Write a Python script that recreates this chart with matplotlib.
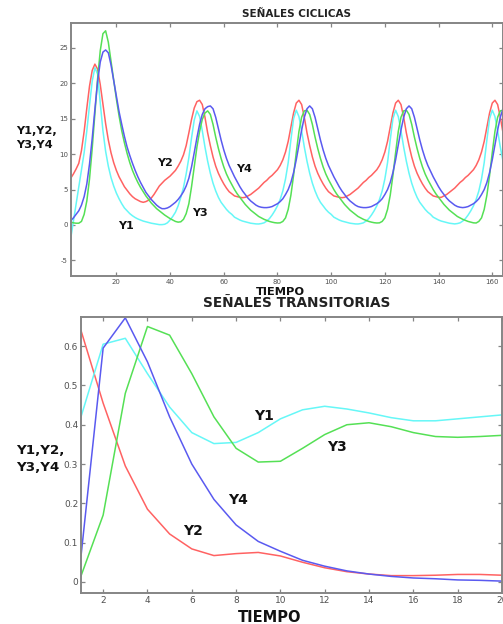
import numpy as np
import matplotlib
matplotlib.use("Agg")
import matplotlib.pyplot as plt

plt.rcParams["axes.unicode_minus"] = False

# ---------------- data: cyclic signals (t = 3 .. 165, step 1) ----------------
t_cyc = np.arange(3, 166)

y2_cyc = [
    6.6, 7.2, 7.9, 8.7, 10.5, 13.2, 16.5, 19.6, 21.8, 22.7, 22.0, 19.8, 17.0, 14.3, 12.0, 10.2, 8.8,
    7.7, 6.8, 6.1, 5.4, 4.9, 4.4, 4.0, 3.7, 3.5, 3.3, 3.2, 3.3, 3.5, 3.8, 4.3, 4.9, 5.5, 5.9, 6.3,
    6.6, 6.9, 7.3, 7.7, 8.3, 9.0, 9.9, 11.2, 13.0, 14.9, 16.5, 17.4, 17.6,
    17.0, 15.2, 13.0, 11.2, 9.6, 8.3, 7.3, 6.5, 5.8, 5.2, 4.7, 4.4, 4.1, 4.0, 3.9, 3.85, 3.9, 4.1,
    4.3, 4.6, 4.9, 5.2, 5.6, 6.0, 6.3, 6.7, 7.0, 7.4, 7.8, 8.4, 9.2, 10.3, 11.8, 13.8, 15.8, 17.2, 17.6,
    17.0, 15.2, 13.0, 11.2, 9.6, 8.3, 7.3, 6.5, 5.8, 5.2, 4.7, 4.4, 4.1, 4.0, 3.9, 3.85, 3.9, 4.1,
    4.3, 4.6, 4.9, 5.2, 5.6, 6.0, 6.3, 6.7, 7.0, 7.4, 7.8, 8.4, 9.2, 10.3, 11.8, 13.8, 15.8, 17.2, 17.6,
    17.0, 15.2, 13.0, 11.2, 9.6, 8.3, 7.3, 6.5, 5.8, 5.2, 4.7, 4.4, 4.1, 4.0, 3.9, 3.9, 4.1,
    4.3, 4.6, 4.9, 5.2, 5.6, 6.0, 6.3, 6.7, 7.0, 7.4, 7.8, 8.4, 9.2, 10.3, 11.8, 13.8, 15.8, 17.2, 17.6,
    17.0, 15.2, 13.0, 11.2,
]

y1_cyc = [
    -1.9, 0.5, 3.0, 5.4, 7.8, 10.2, 13.3, 16.9, 20.3, 22.2, 21.3, 17.2, 13.3, 10.4, 8.3, 6.7, 5.5,
    4.5, 3.7, 3.0, 2.4, 2.0, 1.6, 1.3, 1.05, 0.85, 0.7, 0.55, 0.45, 0.35, 0.25, 0.18, 0.1, 0.05,
    0.05, 0.1, 0.3, 0.7, 1.2, 1.8, 2.7, 3.9, 5.3, 7.2, 9.5, 12.3, 14.8, 16.1,
    15.3, 13.3, 11.0, 9.0, 7.3, 5.9, 4.8, 3.9, 3.2, 2.7, 2.2, 1.8, 1.5, 1.1, 0.9, 0.7, 0.55, 0.45,
    0.35, 0.25, 0.2, 0.15, 0.14, 0.2, 0.3, 0.55, 0.9, 1.4, 2.0, 2.7, 3.6, 4.8, 6.5, 8.8, 12.0, 15.0, 16.2,
    15.3, 13.3, 11.0, 9.0, 7.3, 5.9, 4.8, 3.9, 3.2, 2.7, 2.2, 1.8, 1.5, 1.1, 0.9, 0.7, 0.55, 0.45,
    0.35, 0.25, 0.2, 0.15, 0.14, 0.2, 0.3, 0.55, 0.9, 1.4, 2.0, 2.7, 3.6, 4.8, 6.5, 8.8, 12.0, 15.0, 16.2,
    15.3, 13.3, 11.0, 9.0, 7.3, 5.9, 4.8, 3.9, 3.2, 2.7, 2.2, 1.8, 1.5, 1.1, 0.9, 0.7, 0.55, 0.45,
    0.35, 0.25, 0.2, 0.15, 0.2, 0.3, 0.55, 0.9, 1.4, 2.0, 2.7, 3.6, 4.8, 6.5, 8.8, 12.0, 15.0, 16.2,
    15.3, 13.3, 11.0, 9.0, 7.3,
]

y3_cyc = [
    0.4, 0.3, 0.25, 0.25, 0.5, 1.5, 3.4, 6.5, 10.8, 15.8, 20.6, 24.6, 27.0, 27.4, 25.8, 23.1, 20.4,
    17.8, 15.4, 13.3, 11.6, 10.1, 8.8, 7.7, 6.8, 6.0, 5.3, 4.7, 4.1, 3.6, 3.1, 2.7, 2.3, 2.0, 1.7,
    1.4, 1.15, 0.9, 0.7, 0.5, 0.4, 0.45, 0.8, 1.6, 3.0, 5.4, 8.2, 11.0, 13.2, 14.9, 15.8, 16.1,
    15.6, 14.2, 12.4, 10.8, 9.4, 8.2, 7.2, 6.4, 5.7, 5.0, 4.4, 3.9, 3.4, 2.9, 2.5, 2.1, 1.8, 1.5,
    1.2, 1.0, 0.8, 0.65, 0.5, 0.4, 0.32, 0.28, 0.3, 0.5, 1.0, 2.2, 4.2, 7.0, 10.2, 13.2, 15.2, 16.1, 16.2,
    15.6, 14.2, 12.4, 10.8, 9.4, 8.2, 7.2, 6.4, 5.7, 5.0, 4.4, 3.9, 3.4, 2.9, 2.5, 2.1, 1.8, 1.5,
    1.2, 1.0, 0.8, 0.65, 0.5, 0.4, 0.32, 0.28, 0.3, 0.5, 1.0, 2.2, 4.2, 7.0, 10.2, 13.2, 15.2, 16.1, 16.2,
    15.6, 14.2, 12.4, 10.8, 9.4, 8.2, 7.2, 6.4, 5.7, 5.0, 4.4, 3.9, 3.4, 2.9, 2.5, 2.1, 1.8, 1.5,
    1.2, 1.0, 0.8, 0.65, 0.5, 0.4, 0.3, 0.28, 0.5, 1.0, 2.2, 4.2, 7.0, 10.2, 13.2, 15.2, 16.1, 16.2,
    15.6,
]

y4_cyc = [
    0.6, 1.0, 1.5, 2.0, 2.8, 4.0, 5.8, 8.6, 12.2, 16.3, 20.2, 23.0, 24.4, 24.7, 24.3, 22.6, 20.4,
    18.2, 16.0, 14.2, 12.5, 11.0, 9.8, 8.7, 7.7, 6.8, 6.0, 5.3, 4.6, 4.1, 3.6, 3.2, 2.8, 2.5, 2.3,
    2.3, 2.4, 2.6, 2.9, 3.2, 3.6, 4.1, 4.7, 5.5, 6.6, 8.2, 10.2, 12.3, 14.2, 15.6, 16.4, 16.7, 16.8,
    16.4, 15.2, 13.6, 12.0, 10.6, 9.4, 8.4, 7.6, 6.8, 6.1, 5.4, 4.8, 4.3, 3.8, 3.4, 3.1, 2.8, 2.6,
    2.5, 2.45, 2.45, 2.5, 2.6, 2.8, 3.0, 3.3, 3.7, 4.3, 5.0, 6.0, 7.4, 9.2, 11.3, 13.4, 15.2, 16.4, 16.8,
    16.4, 15.2, 13.6, 12.0, 10.6, 9.4, 8.4, 7.6, 6.8, 6.1, 5.4, 4.8, 4.3, 3.8, 3.4, 3.1, 2.8, 2.6,
    2.5, 2.45, 2.45, 2.5, 2.6, 2.8, 3.0, 3.3, 3.7, 4.3, 5.0, 6.0, 7.4, 9.2, 11.3, 13.4, 15.2, 16.4, 16.8,
    16.4, 15.2, 13.6, 12.0, 10.6, 9.4, 8.4, 7.6, 6.8, 6.1, 5.4, 4.8, 4.3, 3.8, 3.4, 3.1, 2.8, 2.6,
    2.5, 2.45, 2.5, 2.6, 2.8, 3.0, 3.3, 3.7, 4.3, 5.0, 6.0, 7.4, 9.2, 11.3, 13.4, 15.2, 16.4, 16.8,
]

# ---------------- data: transient signals (t = 1 .. 20) ----------------
t_tr = np.arange(1, 21)
y1_tr = [0.42, 0.605, 0.62, 0.53, 0.445, 0.38, 0.352, 0.355, 0.38, 0.415,
         0.438, 0.447, 0.44, 0.43, 0.418, 0.41, 0.41, 0.415, 0.42, 0.425]
y2_tr = [0.64, 0.455, 0.295, 0.185, 0.122, 0.084, 0.067, 0.072, 0.075, 0.066,
         0.05, 0.036, 0.026, 0.02, 0.016, 0.016, 0.017, 0.019, 0.019, 0.017]
y3_tr = [0.015, 0.17, 0.48, 0.65, 0.628, 0.53, 0.42, 0.34, 0.305, 0.307,
         0.34, 0.375, 0.4, 0.405, 0.395, 0.38, 0.37, 0.368, 0.37, 0.373]
y4_tr = [0.065, 0.595, 0.672, 0.56, 0.42, 0.30, 0.21, 0.145, 0.103, 0.078,
         0.055, 0.04, 0.028, 0.02, 0.014, 0.01, 0.008, 0.005, 0.004, 0.002]

# Colours (MATLAB r / c / g / b, softened)
C_Y1 = "#66f7f7"
C_Y2 = "#ff6262"
C_Y3 = "#55e055"
C_Y4 = "#5a5af0"
SPINE = "#858585"

fig = plt.figure(figsize=(5.03, 6.24), dpi=100)


def style_axes(ax, tick_size):
    for s in ax.spines.values():
        s.set_color(SPINE)
        s.set_linewidth(1.4)
    ax.tick_params(direction="in", length=3, width=0.9, color=SPINE,
                   top=True, right=True, labelsize=tick_size, labelcolor="#505050", pad=2)


# Top: cyclic signals
ax1 = fig.add_axes([0.1406, 0.5577, 0.8594, 0.4054])
ax1.plot(t_cyc, y2_cyc, color=C_Y2, lw=1.1)
ax1.plot(t_cyc, y1_cyc, color=C_Y1, lw=1.1)
ax1.plot(t_cyc, y3_cyc, color=C_Y3, lw=1.1)
ax1.plot(t_cyc, y4_cyc, color=C_Y4, lw=1.1)
ax1.set_xlim(3, 164)
ax1.set_ylim(-7.2, 28.5)
ax1.set_xticks(np.arange(20, 161, 20))
ax1.set_yticks(np.arange(-5, 26, 5))
style_axes(ax1, 5)

lab = dict(fontsize=8, fontweight="bold", ha="center", va="center", color="#111111")
ax1.text(38.1, 8.8, "Y2", **lab)
ax1.text(67.7, 7.9, "Y4", **lab)
ax1.text(51.3, 1.7, "Y3", **lab)
ax1.text(23.4, -0.1, "Y1", **lab)

fig.text(0.590, 0.978, "SEÑALES CICLICAS", fontsize=7.5, fontweight="bold",
         ha="center", va="center", color="#222222")
fig.text(0.557, 0.532, "TIEMPO", fontsize=8.2, fontweight="bold",
         ha="center", va="center", color="#111111")
fig.text(0.0318, 0.779, "Y1,Y2,\nY3,Y4", fontsize=8.2, fontweight="bold",
         ha="left", va="center", linespacing=1.4, color="#111111")

# Bottom: transient signals
ax2 = fig.add_axes([0.161, 0.0492, 0.837, 0.4433])
ax2.plot(t_tr, y2_tr, color=C_Y2, lw=1.1)
ax2.plot(t_tr, y1_tr, color=C_Y1, lw=1.1)
ax2.plot(t_tr, y3_tr, color=C_Y3, lw=1.1)
ax2.plot(t_tr, y4_tr, color=C_Y4, lw=1.1)
ax2.set_xlim(1, 20)
ax2.set_ylim(-0.029, 0.675)
ax2.set_xticks(np.arange(2, 21, 2))
ax2.set_yticks(np.arange(0, 0.61, 0.1))
ax2.set_yticklabels(["0", "0.1", "0.2", "0.3", "0.4", "0.5", "0.6"])
style_axes(ax2, 6.5)

lab2 = dict(fontsize=10, fontweight="bold", ha="center", va="center", color="#111111")
ax2.text(9.24, 0.422, "Y1", **lab2)
ax2.text(12.56, 0.343, "Y3", **lab2)
ax2.text(8.1, 0.209, "Y4", **lab2)
ax2.text(6.06, 0.130, "Y2", **lab2)

fig.text(0.590, 0.5144, "SEÑALES TRANSITORIAS", fontsize=9.8, fontweight="bold",
         ha="center", va="center", color="#222222")
fig.text(0.537, 0.011, "TIEMPO", fontsize=10.5, fontweight="bold",
         ha="center", va="center", color="#111111")
fig.text(0.0318, 0.2644, "Y1,Y2,\nY3,Y4", fontsize=9.6, fontweight="bold",
         ha="left", va="center", linespacing=1.45, color="#111111")

fig.savefig("out.png", dpi=100)
plt.close(fig)
